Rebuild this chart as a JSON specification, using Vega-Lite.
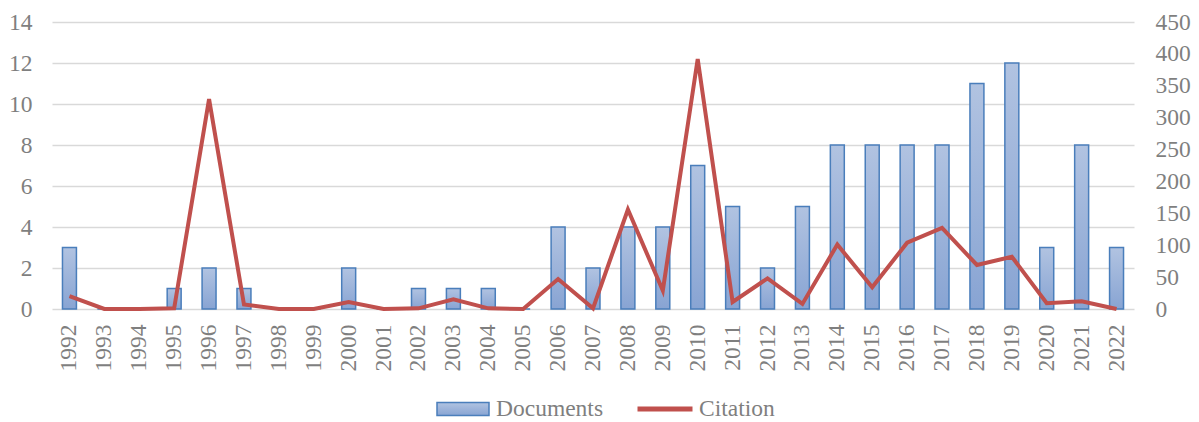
{
  "$schema": "https://vega.github.io/schema/vega-lite/v6.json",
  "autosize": {"type": "none"},
  "width": 1082,
  "height": 287,
  "padding": {"left": 52, "top": 22, "right": 65, "bottom": 113},
  "background": "white",
  "config": {
    "view": {"stroke": null},
    "font": "Times New Roman, Liberation Serif, serif",
    "axis": {"labelFont": "Times New Roman, Liberation Serif, serif", "labelFontSize": 23.5, "labelColor": "#7f7f7f", "ticks": false, "domain": false, "title": null},
    "legend": {"labelFont": "Times New Roman, Liberation Serif, serif", "labelFontSize": 23.5, "labelColor": "#7f7f7f"}
  },
  "data": {
    "values": [
      {"year": "1992", "docs": 3, "cit": 20},
      {"year": "1993", "docs": 0, "cit": 0},
      {"year": "1994", "docs": 0, "cit": 0},
      {"year": "1995", "docs": 1, "cit": 1},
      {"year": "1996", "docs": 2, "cit": 329},
      {"year": "1997", "docs": 1, "cit": 7},
      {"year": "1998", "docs": 0, "cit": 0},
      {"year": "1999", "docs": 0, "cit": 0},
      {"year": "2000", "docs": 2, "cit": 11},
      {"year": "2001", "docs": 0, "cit": 0},
      {"year": "2002", "docs": 1, "cit": 1},
      {"year": "2003", "docs": 1, "cit": 15},
      {"year": "2004", "docs": 1, "cit": 1},
      {"year": "2005", "docs": 0, "cit": 0},
      {"year": "2006", "docs": 4, "cit": 47},
      {"year": "2007", "docs": 2, "cit": 1},
      {"year": "2008", "docs": 4, "cit": 156},
      {"year": "2009", "docs": 4, "cit": 29},
      {"year": "2010", "docs": 7, "cit": 392},
      {"year": "2011", "docs": 5, "cit": 11},
      {"year": "2012", "docs": 2, "cit": 48},
      {"year": "2013", "docs": 5, "cit": 8},
      {"year": "2014", "docs": 8, "cit": 101},
      {"year": "2015", "docs": 8, "cit": 34},
      {"year": "2016", "docs": 8, "cit": 104},
      {"year": "2017", "docs": 8, "cit": 127},
      {"year": "2018", "docs": 11, "cit": 69},
      {"year": "2019", "docs": 12, "cit": 82},
      {"year": "2020", "docs": 3, "cit": 9},
      {"year": "2021", "docs": 8, "cit": 12},
      {"year": "2022", "docs": 3, "cit": 0}
    ]
  },
  "encoding": {
    "x": {
      "field": "year", "type": "ordinal", "sort": null,
      "scale": {"paddingInner": 0.6, "paddingOuter": 0.3},
      "axis": {"labelAngle": -90, "labelPadding": 15, "grid": false}
    }
  },
  "layer": [
    {
      "mark": {
        "type": "bar",
        "strokeWidth": 1.5,
        "fill": {"gradient": "linear", "x1": 0, "y1": 0, "x2": 0, "y2": 1, "stops": [{"offset": 0, "color": "#b1c3e1"}, {"offset": 1, "color": "#88a4d3"}]}
      },
      "encoding": {
        "y": {
          "field": "docs", "type": "quantitative",
          "scale": {"domain": [0, 14], "nice": false},
          "axis": {"values": [0, 2, 4, 6, 8, 10, 12, 14], "grid": true, "gridColor": "#d9d9d9", "gridWidth": 1.3, "labelPadding": 20}
        },
        "stroke": {
          "datum": "Documents", "type": "nominal",
          "scale": {"range": ["#4a7ebb"]},
          "legend": {"orient": "none", "legendX": 384, "legendY": 360, "title": null, "symbolType": "M-1,-0.25H1V0.25H-1Z", "symbolSize": 2704, "symbolFillColor": "#9db3da", "symbolStrokeWidth": 1.5, "labelOffset": 6}
        }
      }
    },
    {
      "mark": {"type": "line", "strokeWidth": 4, "strokeJoin": "miter"},
      "encoding": {
        "y": {
          "field": "cit", "type": "quantitative",
          "scale": {"domain": [0, 450], "nice": false},
          "axis": {"orient": "right", "values": [0, 50, 100, 150, 200, 250, 300, 350, 400, 450], "grid": false, "labelPadding": 21}
        },
        "stroke": {
          "datum": "Citation", "type": "nominal",
          "scale": {"range": ["#c0504d"]},
          "legend": {"orient": "none", "legendX": 583, "legendY": 357, "title": null, "symbolType": "stroke", "symbolSize": 3025, "symbolStrokeWidth": 5, "labelOffset": 4}
        }
      }
    }
  ],
  "resolve": {"scale": {"y": "independent", "stroke": "independent"}, "legend": {"stroke": "independent"}}
}
